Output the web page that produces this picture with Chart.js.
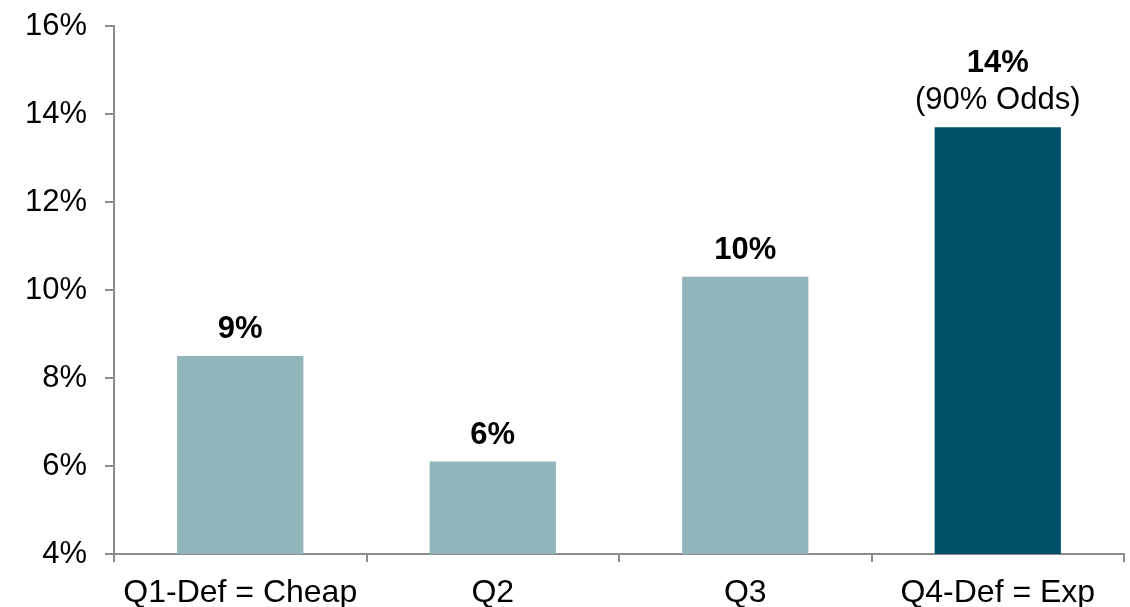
<!DOCTYPE html>
<html>
<head>
<meta charset="utf-8">
<script src="https://cdn.jsdelivr.net/npm/chart.js@4"></script>
<style>
    html, body { margin: 0; padding: 0; background: #fff; }
    #wrap { width: 1130px; height: 607px; }
</style>
</head>
<body>
<div id="wrap"><canvas id="chart"></canvas></div>
<script>
const categories = ['Q1-Def = Cheap', 'Q2', 'Q3', 'Q4-Def = Exp'];
const returns = [8.5, 6.1, 10.3, 13.7];
const valueLabels = ['9%', '6%', '10%', '14%'];
const noteLabels = ['', '', '', '(90% Odds)'];
const barColors = ['#91b5ba', '#91b5ba', '#91b5ba', '#00506b'];

const FONT = 'Liberation Sans, Arial, sans-serif';
const AXIS = '#8c8c8c';

// draws the value text above each bar
const barLabels = {
    id: 'barLabels',
    afterDatasetsDraw(chart) {
        const ctx = chart.ctx;
        const meta = chart.getDatasetMeta(0);
        ctx.save();
        ctx.textAlign = 'center';
        ctx.textBaseline = 'alphabetic';
        ctx.fillStyle = '#000';
        meta.data.forEach((bar, i) => {
            let y = bar.y - 18;
            if (noteLabels[i]) {
                ctx.font = '31px ' + FONT;
                ctx.fillText(noteLabels[i], bar.x, y);
                y -= 37;
            }
            ctx.font = 'bold 31px ' + FONT;
            ctx.fillText(valueLabels[i], bar.x, y);
        });
        ctx.restore();
    }
};

new Chart(document.getElementById('chart'), {
    type: 'bar',
    data: {
        labels: categories,
        datasets: [{
            data: returns,
            backgroundColor: barColors,
            categoryPercentage: 1,
            barPercentage: 0.5
        }]
    },
    options: {
        responsive: true,
        maintainAspectRatio: false,
        animation: false,
        layout: { padding: { top: 26, right: 6 } },
        plugins: {
            legend: { display: false },
            tooltip: { enabled: false }
        },
        scales: {
            x: {
                grid: { drawOnChartArea: false, drawTicks: true, tickLength: 8, color: AXIS, lineWidth: 2 },
                border: { display: true, color: AXIS, width: 2 },
                ticks: { color: '#000', font: { family: FONT, size: 32 }, padding: 12, maxRotation: 0 },
                afterFit: (s) => { s.height = 53; }
            },
            y: {
                min: 4,
                max: 16,
                grid: { drawOnChartArea: false, drawTicks: true, tickLength: 9, color: AXIS, lineWidth: 2 },
                border: { display: true, color: AXIS, width: 2 },
                ticks: {
                    stepSize: 2,
                    color: '#000',
                    font: { family: FONT, size: 31 },
                    padding: 18,
                    callback: (v) => v + '%'
                },
                afterFit: (s) => { s.width = 114; s.paddingTop = 0; }
            }
        }
    },
    plugins: [barLabels]
});
</script>
</body>
</html>
